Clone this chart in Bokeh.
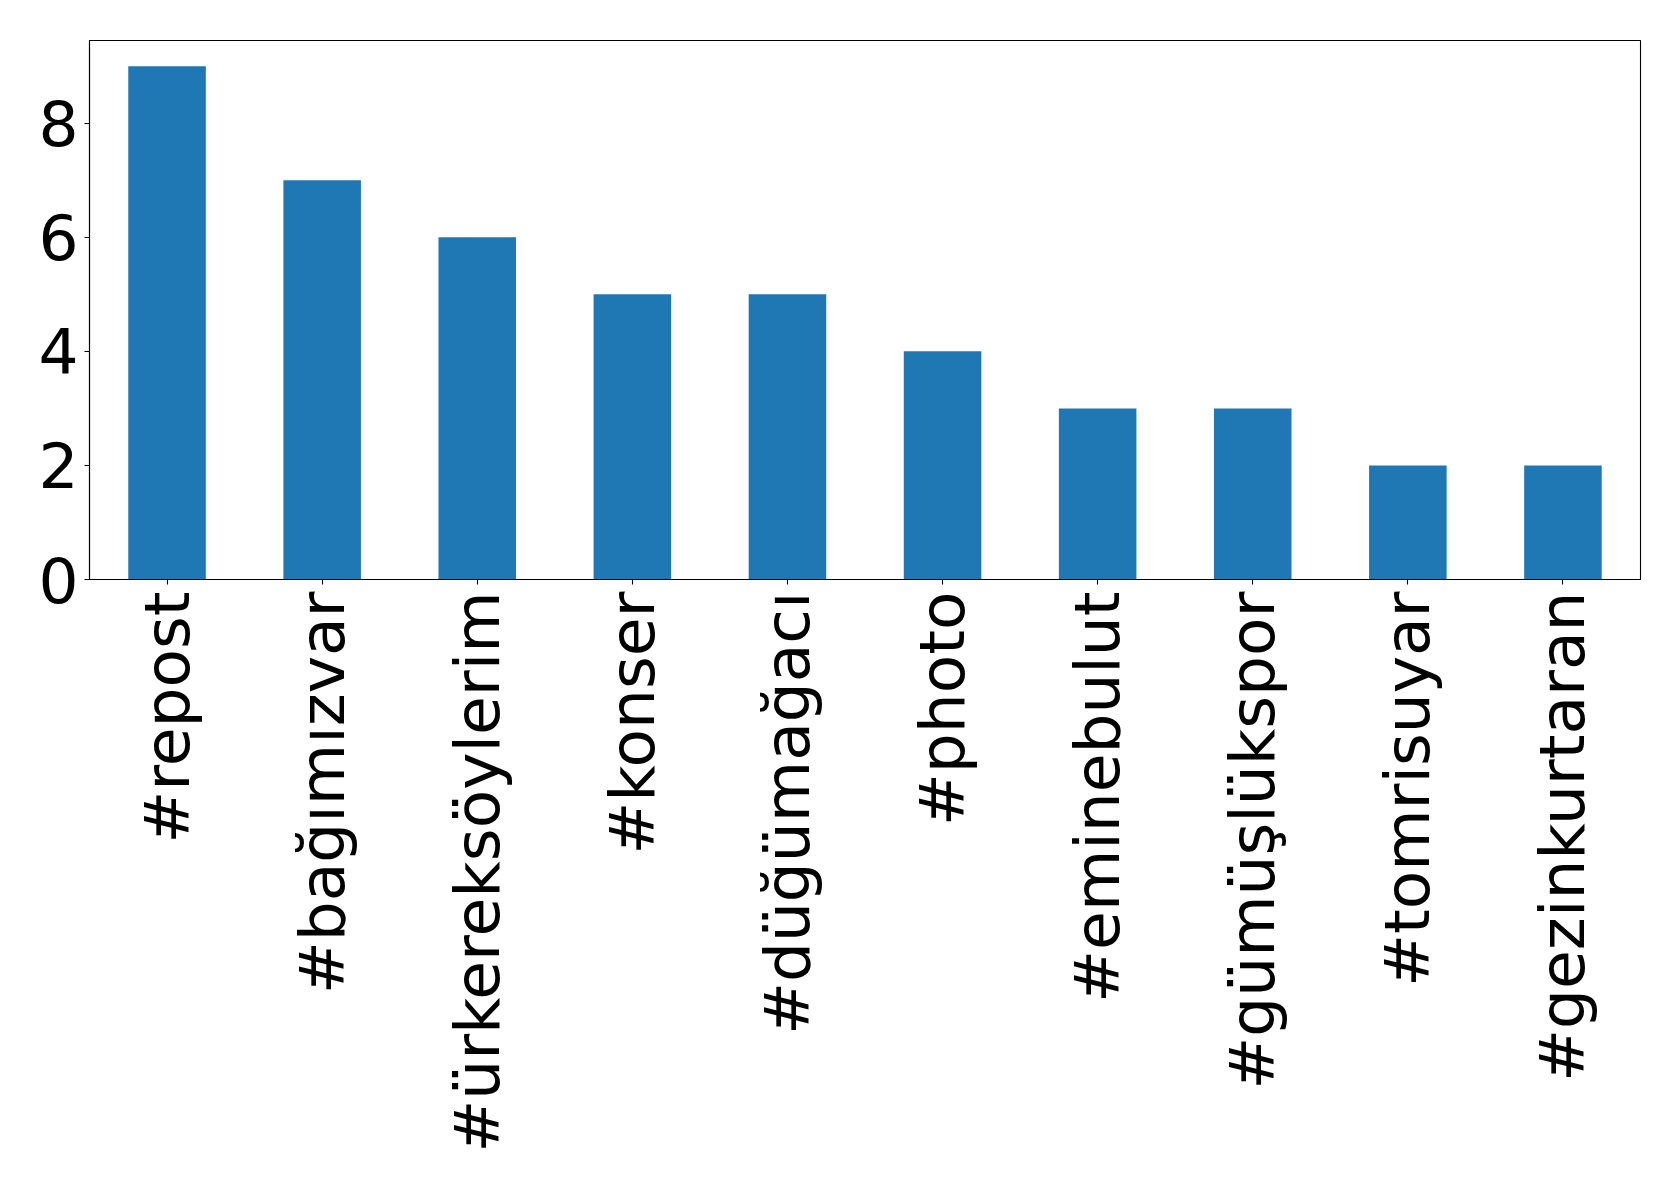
import math
from bokeh.plotting import figure
from bokeh.models import Range1d, FixedTicker, ColumnDataSource
from bokeh.embed import file_html
from bokeh.resources import INLINE

tags = ["#repost", "#bağımızvar", "#ürkereksöylerim", "#konser", "#düğümağacı",
        "#photo", "#eminebulut", "#gümüşlükspor", "#tomrisuyar", "#gezinkurtaran"]
counts = [9, 7, 6, 5, 5, 4, 3, 3, 2, 2]
y_ticks = [0, 2, 4, 6, 8]

source = ColumnDataSource(data=dict(tags=tags, counts=counts))

p = figure(x_range=tags, y_range=Range1d(0, 9.45), width=1663, height=1169,
           output_backend="svg", toolbar_location=None,
           min_border_left=89, min_border_right=23, min_border_top=40, min_border_bottom=590)

p.vbar(x="tags", top="counts", width=0.5, source=source, color="#1f77b4", line_color=None)

p.xgrid.grid_line_color = None
p.ygrid.grid_line_color = None
p.outline_line_color = "black"
p.outline_line_width = 1.1
p.outline_line_alpha = 1.0

font = "DejaVu Sans"
for ax in (p.xaxis[0], p.yaxis[0]):
    ax.major_label_text_font = font
    ax.major_label_text_font_size = "63px"
    ax.major_label_text_color = "black"
    ax.axis_line_color = "black"
    ax.axis_line_width = 1.1
    ax.major_tick_line_color = "black"
    ax.major_tick_line_width = 1.1
    ax.major_tick_out = 5
    ax.major_tick_in = 0
    ax.minor_tick_line_color = None

p.yaxis[0].ticker = FixedTicker(ticks=y_ticks)
p.yaxis[0].major_label_standoff = 6
p.xaxis[0].major_label_orientation = math.pi / 2
p.xaxis[0].major_label_standoff = 7

open("out.html", "w").write(file_html(p, INLINE))
